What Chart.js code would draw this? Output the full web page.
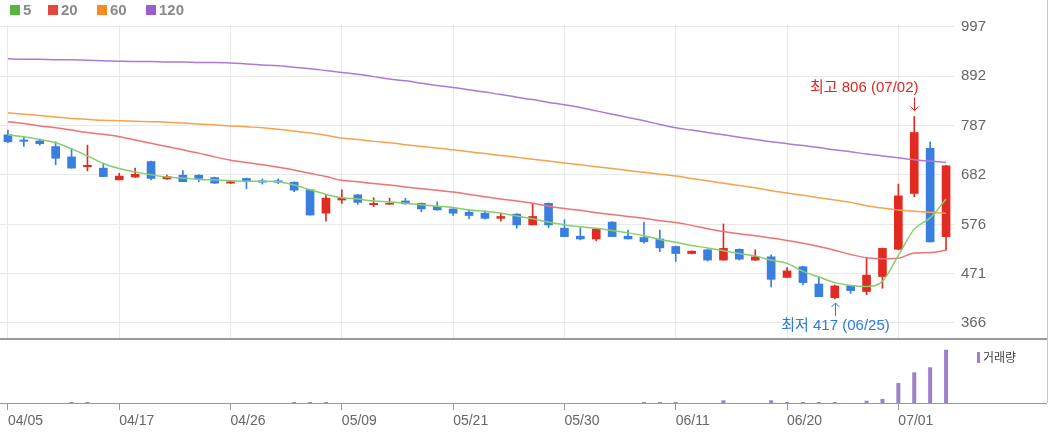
<!DOCTYPE html>
<html>
<head>
<meta charset="utf-8">
<script src="https://cdn.jsdelivr.net/npm/chart.js@4.4.1/dist/chart.umd.min.js"></script>
<style>
  body { margin: 0; background: #fff; }
  #wrap { position: relative; width: 1050px; height: 434px; overflow: hidden; }
  #priceChart { position: absolute; left: 0; top: 0; }
  #volChart { position: absolute; left: 0; top: 339px; }
</style>
</head>
<body>
<div id="wrap">
  <canvas id="priceChart" width="1050" height="339"></canvas>
  <canvas id="volChart" width="1050" height="95"></canvas>
</div>
<script>
// trading days shown on the chart
const dates = ["04/05","04/08","04/09","04/11","04/12","04/15","04/16","04/17","04/18","04/19",
  "04/22","04/23","04/24","04/25","04/26","04/29","04/30","05/02","05/03","05/07",
  "05/08","05/09","05/10","05/13","05/14","05/16","05/17","05/20","05/21","05/22",
  "05/23","05/24","05/27","05/28","05/29","05/30","05/31","06/03","06/04","06/05",
  "06/07","06/10","06/11","06/12","06/13","06/14","06/17","06/18","06/19","06/20",
  "06/21","06/24","06/25","06/26","06/27","06/28","07/01","07/02","07/03","07/04"];

const opens  = [767,756,754,742,720,699,696,671,677,710, 673,681,681,676,664,674,669,669,666,650,
                600,628,639,618,619,626,621,614,609,602, 600,589,598,575,621,568,551,545,581,551,
                548,545,529,514,522,500,523,500,507,463, 486,449,420,445,433,465,523,642,738,550];
const highs  = [777,763,758,752,738,745,706,685,696,711, 681,691,682,677,669,675,673,673,667,650,
                640,650,640,633,632,632,622,624,610,607, 605,600,599,621,622,586,569,567,582,564,
                581,564,530,520,523,577,524,522,511,484, 487,465,447,446,504,526,662,806,752,702];
const lows   = [750,742,745,703,696,690,678,671,676,671, 672,667,667,663,663,652,662,663,646,596,
                583,621,619,614,619,619,603,606,595,588, 587,583,568,575,569,550,543,541,550,545,
                536,518,497,513,498,500,500,499,443,463, 447,422,417,429,426,440,522,635,539,521];
const closes = [752,753,748,717,696,702,678,679,683,674, 678,667,674,664,667,667,666,666,649,596,
                632,632,623,621,621,620,609,607,600,595, 589,593,575,593,575,550,545,566,550,545,
                539,526,514,519,500,525,502,507,459,477, 452,422,445,435,468,525,637,772,539,701];

// moving averages as drawn
const ma5   = [767,763,757,750,737,722,706,695,688,682, 677,675,672,671,669,668,668,667,660,650,
               640,633,630,626,624,621,618,615,612,607, 604,600,594,588,581,575,571,568,563,558,
               552,544,538,531,526,520,514,509,500,493, 476,464,452,446,444,455,510,566,590,630];
const ma20  = [795,791,786,782,777,772,768,763,756,749, 742,735,728,720,713,708,703,698,692,685,
               678,670,667,663,660,656,652,649,645,640, 635,630,626,621,615,610,606,601,597,593,
               589,584,580,574,567,561,556,552,547,542, 536,529,521,512,505,503,504,515,516,521];
const ma60  = [814,811,808,805,802,800,798,797,796,795, 794,792,790,788,786,784,782,779,775,771,
               766,760,757,753,750,746,742,739,735,731, 727,723,719,715,711,707,703,699,695,691,
               687,683,679,674,669,664,659,654,648,643, 638,633,628,623,616,611,607,604,602,600];
const ma120 = [929,928,928,927,927,926,925,924,923,923, 922,922,921,921,920,918,916,914,911,908,
               904,900,896,891,886,882,877,872,868,863, 858,853,847,842,836,831,825,818,811,804,
               797,789,782,777,772,767,762,757,752,748, 744,740,735,731,726,722,718,714,711,708];

const volumes = [0,0,0,0,100,100,0,0,0,0, 0,0,0,0,0,0,0,0,100,100,
                 100,0,0,0,0,0,0,0,0,0, 0,0,0,0,0,0,0,0,0,0,
                 100,100,100,0,0,270,0,0,270,100, 100,100,100,0,230,400,2000,3070,3570,5330];

const priceTicks = [997, 892, 787, 682, 576, 471, 366];

const upColor = '#e12b22';
const downColor = '#3a7fe0';
const candleColors = closes.map((c, i) => c >= opens[i] ? upColor : downColor);

const labelFont = { family: 'Liberation Sans', size: 15 };
const gridColor = '#e9e9e9';

const maLegend = {
  id: 'maLegend',
  afterDraw(chart) {
    const ctx = chart.ctx;
    const items = [['5', '#55b83c', 10], ['20', '#e8443d', 48], ['60', '#f68b1f', 97], ['120', '#9d5dce', 146]];
    ctx.save();
    ctx.font = 'bold 15px "Liberation Sans"';
    ctx.textBaseline = 'middle';
    items.forEach(([t, c, x]) => {
      ctx.fillStyle = c;
      ctx.fillRect(x, 5, 10, 10);
      ctx.fillStyle = '#8a8a8a';
      ctx.fillText(t, x + 13, 10.5);
    });
    // panel frame
    ctx.fillStyle = '#9a9a9a';
    ctx.fillRect(0, 338, 1047, 1);
    ctx.fillStyle = '#c8c8c8';
    ctx.fillRect(1047, 0, 1, 339);
    ctx.restore();
  }
};

function arrow(ctx, x, y1, y2) {
  const dir = y2 > y1 ? 1 : -1;
  ctx.beginPath();
  ctx.moveTo(x, y1);
  ctx.lineTo(x, y2);
  ctx.moveTo(x - 4, y2 - dir * 4);
  ctx.lineTo(x, y2);
  ctx.lineTo(x + 4, y2 - dir * 4);
  ctx.stroke();
}

const hiLo = {
  id: 'hiLo',
  afterDatasetsDraw(chart) {
    const ctx = chart.ctx;
    const xs = chart.scales.x, ys = chart.scales.y;
    const hiIdx = highs.indexOf(Math.max(...highs));
    const loIdx = lows.indexOf(Math.min(...lows));
    const hx = Math.round(xs.getPixelForValue(hiIdx)) + 0.5;
    const hy = ys.getPixelForValue(highs[hiIdx]);
    const lx = Math.round(xs.getPixelForValue(loIdx)) + 0.5;
    const ly = ys.getPixelForValue(lows[loIdx]);
    ctx.save();
    ctx.lineWidth = 1;
    ctx.font = '15px "Liberation Sans", "Noto Sans CJK KR"';
    ctx.textBaseline = 'middle';

    ctx.strokeStyle = ctx.fillStyle = '#e8261c';
    arrow(ctx, hx, hy - 19, hy - 6);
    ctx.textAlign = 'right';
    ctx.fillText('최고 ' + highs[hiIdx] + ' (' + dates[hiIdx] + ')', hx + 4, hy - 29);

    ctx.strokeStyle = ctx.fillStyle = '#2a7ae2';
    arrow(ctx, lx, ly + 17, ly + 4);
    ctx.textAlign = 'center';
    ctx.fillText('최저 ' + lows[loIdx] + ' (' + dates[loIdx] + ')', lx, ly + 27);
    ctx.restore();
  }
};

function maLine(label, data, color) {
  return {
    type: 'line', label: label, data: data, borderColor: color, borderWidth: 1.5,
    pointRadius: 0, cubicInterpolationMode: 'monotone', order: 0
  };
}

new Chart(document.getElementById('priceChart').getContext('2d'), {
  data: {
    labels: dates,
    datasets: [
      maLine('5', ma5, '#84cf6c'),
      maLine('20', ma20, '#f07272'),
      maLine('60', ma60, '#f8a24c'),
      maLine('120', ma120, '#a97bd8'),
      {
        type: 'bar', label: 'body', data: opens.map((o, i) => [o, closes[i]]),
        backgroundColor: candleColors, barThickness: 8, grouped: false, minBarLength: 1, order: 1
      },
      {
        type: 'bar', label: 'wick', data: lows.map((l, i) => [l, highs[i]]),
        backgroundColor: candleColors, barThickness: 1, grouped: false, order: 2
      }
    ]
  },
  options: {
    responsive: false,
    animation: false,
    layout: { padding: { top: 25, bottom: 1, left: 0, right: 0 } },
    plugins: { legend: { display: false }, tooltip: { enabled: false } },
    scales: {
      x: {
        type: 'category', offset: true,
        ticks: { display: false, autoSkip: false },
        grid: { offset: false, drawTicks: false, color: c => c.index % 7 === 0 ? gridColor : 'rgba(0,0,0,0)' },
        border: { display: false },
        afterFit: s => { s.height = 0; }
      },
      y: {
        position: 'right', min: 334, max: 1001,
        afterBuildTicks: s => { s.ticks = priceTicks.map(v => ({ value: v })); },
        ticks: { color: '#666', font: labelFont, padding: 7 },
        grid: { color: gridColor, drawTicks: false },
        border: { display: false },
        afterFit: s => { s.width = 96; s.paddingTop = 0; s.paddingBottom = 0; }
      }
    }
  },
  plugins: [maLegend, hiLo]
});

const volFrame = {
  id: 'volFrame',
  afterDraw(chart) {
    const ctx = chart.ctx;
    const a = chart.chartArea;
    ctx.save();
    ctx.fillStyle = '#9a9a9a';
    ctx.fillRect(0, 0, 1047, 1);
    ctx.fillRect(0, a.bottom, 1047, 1);
    ctx.fillStyle = '#c8c8c8';
    ctx.fillRect(1047, 0, 1, a.bottom);
    // volume legend
    ctx.fillStyle = '#9b82c9';
    ctx.fillRect(977, 13, 3, 11);
    ctx.fillStyle = '#444';
    ctx.font = '12px "Noto Sans CJK KR"';
    ctx.textBaseline = 'middle';
    ctx.fillText('거래량', 983, 18.5);
    ctx.restore();
  }
};

new Chart(document.getElementById('volChart').getContext('2d'), {
  type: 'bar',
  data: {
    labels: dates,
    datasets: [{ label: '거래량', data: volumes, backgroundColor: '#9b82c9', barThickness: 4, inflateAmount: 0 }]
  },
  options: {
    responsive: false,
    animation: false,
    layout: { padding: { top: 1, bottom: 0, left: 0, right: 0 } },
    plugins: { legend: { display: false }, tooltip: { enabled: false } },
    scales: {
      x: {
        type: 'category', offset: true,
        ticks: {
          autoSkip: false, maxRotation: 0, align: 'start', padding: 3,
          color: '#666', font: { family: 'Liberation Sans', size: 14 },
          callback: (v, i) => i % 7 === 0 ? dates[i] : ''
        },
        grid: { offset: false, drawOnChartArea: false, tickLength: 7, color: c => c.index % 7 === 0 ? '#999' : 'rgba(0,0,0,0)' },
        border: { display: false },
        afterFit: s => { s.height = 31; s.paddingLeft = 0; s.paddingRight = 0; }
      },
      y: {
        position: 'right', min: 0, max: 6300,
        ticks: { display: false }, grid: { display: false }, border: { display: false },
        afterFit: s => { s.width = 96; }
      }
    }
  },
  plugins: [volFrame]
});
</script>
</body>
</html>
